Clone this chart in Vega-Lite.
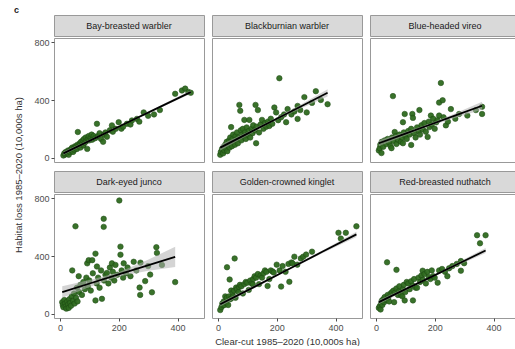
{
"$schema": "https://vega.github.io/schema/vega-lite/v6.json",
"padding": {"left": 13, "top": 5, "right": 0, "bottom": 0},
"title": {"text": "c", "anchor": "start", "fontSize": 9, "fontWeight": "bold", "offset": 0, "frame": "bounds", "color": "#222"},
"config": {
  "font": "Liberation Sans",
  "axis": {"labelFontSize": 9, "labelColor": "#4d4d4d", "tickColor": "#4d4d4d", "tickSize": 3, "labelPadding": 2, "domain": false, "grid": false, "titleFontSize": 9.5, "titleFontWeight": "normal", "titleColor": "#333", "titlePadding": 4},
  "view": {"stroke": "#999"}
},
"datasets": {
"pts": [
{"sp":"BBWA","x":12,"y":15},{"sp":"BBWA","x":15,"y":30},{"sp":"BBWA","x":18,"y":22},{"sp":"BBWA","x":20,"y":40},{"sp":"BBWA","x":22,"y":28},{"sp":"BBWA","x":25,"y":35},{"sp":"BBWA","x":28,"y":50},{"sp":"BBWA","x":30,"y":20},{"sp":"BBWA","x":32,"y":45},{"sp":"BBWA","x":35,"y":38},{"sp":"BBWA","x":38,"y":60},{"sp":"BBWA","x":40,"y":50},{"sp":"BBWA","x":42,"y":70},{"sp":"BBWA","x":45,"y":40},{"sp":"BBWA","x":48,"y":65},{"sp":"BBWA","x":50,"y":55},{"sp":"BBWA","x":52,"y":80},{"sp":"BBWA","x":55,"y":75},{"sp":"BBWA","x":58,"y":60},{"sp":"BBWA","x":60,"y":90},{"sp":"BBWA","x":61,"y":178},{"sp":"BBWA","x":65,"y":85},{"sp":"BBWA","x":68,"y":100},{"sp":"BBWA","x":70,"y":70},{"sp":"BBWA","x":72,"y":110},{"sp":"BBWA","x":75,"y":95},{"sp":"BBWA","x":78,"y":120},{"sp":"BBWA","x":80,"y":85},{"sp":"BBWA","x":82,"y":130},{"sp":"BBWA","x":85,"y":105},{"sp":"BBWA","x":88,"y":140},{"sp":"BBWA","x":90,"y":115},{"sp":"BBWA","x":93,"y":61},{"sp":"BBWA","x":95,"y":130},{"sp":"BBWA","x":98,"y":150},{"sp":"BBWA","x":100,"y":120},{"sp":"BBWA","x":105,"y":140},{"sp":"BBWA","x":108,"y":160},{"sp":"BBWA","x":110,"y":125},{"sp":"BBWA","x":115,"y":150},{"sp":"BBWA","x":120,"y":135},{"sp":"BBWA","x":126,"y":235},{"sp":"BBWA","x":130,"y":150},{"sp":"BBWA","x":135,"y":170},{"sp":"BBWA","x":140,"y":130},{"sp":"BBWA","x":147,"y":110},{"sp":"BBWA","x":150,"y":160},{"sp":"BBWA","x":155,"y":175},{"sp":"BBWA","x":160,"y":145},{"sp":"BBWA","x":170,"y":190},{"sp":"BBWA","x":177,"y":224},{"sp":"BBWA","x":180,"y":180},{"sp":"BBWA","x":190,"y":200},{"sp":"BBWA","x":200,"y":246},{"sp":"BBWA","x":209,"y":201},{"sp":"BBWA","x":215,"y":215},{"sp":"BBWA","x":228,"y":235},{"sp":"BBWA","x":240,"y":230},{"sp":"BBWA","x":245,"y":258},{"sp":"BBWA","x":262,"y":269},{"sp":"BBWA","x":270,"y":250},{"sp":"BBWA","x":285,"y":314},{"sp":"BBWA","x":300,"y":290},{"sp":"BBWA","x":320,"y":300},{"sp":"BBWA","x":340,"y":330},{"sp":"BBWA","x":392,"y":443},{"sp":"BBWA","x":415,"y":466},{"sp":"BBWA","x":426,"y":479},{"sp":"BBWA","x":437,"y":456},{"sp":"BBWA","x":445,"y":450},
{"sp":"BLBW","x":8,"y":20},{"sp":"BLBW","x":10,"y":40},{"sp":"BLBW","x":14,"y":60},{"sp":"BLBW","x":18,"y":30},{"sp":"BLBW","x":20,"y":75},{"sp":"BLBW","x":22,"y":50},{"sp":"BLBW","x":25,"y":90},{"sp":"BLBW","x":28,"y":65},{"sp":"BLBW","x":30,"y":110},{"sp":"BLBW","x":32,"y":45},{"sp":"BLBW","x":35,"y":85},{"sp":"BLBW","x":38,"y":120},{"sp":"BLBW","x":40,"y":70},{"sp":"BLBW","x":42,"y":140},{"sp":"BLBW","x":45,"y":212},{"sp":"BLBW","x":45,"y":100},{"sp":"BLBW","x":48,"y":80},{"sp":"BLBW","x":50,"y":130},{"sp":"BLBW","x":52,"y":160},{"sp":"BLBW","x":55,"y":110},{"sp":"BLBW","x":58,"y":90},{"sp":"BLBW","x":60,"y":150},{"sp":"BLBW","x":62,"y":125},{"sp":"BLBW","x":65,"y":175},{"sp":"BLBW","x":68,"y":100},{"sp":"BLBW","x":70,"y":140},{"sp":"BLBW","x":73,"y":366},{"sp":"BLBW","x":76,"y":325},{"sp":"BLBW","x":78,"y":190},{"sp":"BLBW","x":80,"y":120},{"sp":"BLBW","x":82,"y":160},{"sp":"BLBW","x":85,"y":200},{"sp":"BLBW","x":88,"y":145},{"sp":"BLBW","x":90,"y":262},{"sp":"BLBW","x":92,"y":175},{"sp":"BLBW","x":95,"y":130},{"sp":"BLBW","x":98,"y":210},{"sp":"BLBW","x":100,"y":160},{"sp":"BLBW","x":105,"y":185},{"sp":"BLBW","x":107,"y":262},{"sp":"BLBW","x":110,"y":140},{"sp":"BLBW","x":115,"y":200},{"sp":"BLBW","x":118,"y":170},{"sp":"BLBW","x":120,"y":225},{"sp":"BLBW","x":125,"y":190},{"sp":"BLBW","x":128,"y":366},{"sp":"BLBW","x":130,"y":100},{"sp":"BLBW","x":132,"y":215},{"sp":"BLBW","x":136,"y":330},{"sp":"BLBW","x":140,"y":175},{"sp":"BLBW","x":145,"y":230},{"sp":"BLBW","x":150,"y":262},{"sp":"BLBW","x":155,"y":200},{"sp":"BLBW","x":160,"y":240},{"sp":"BLBW","x":165,"y":215},{"sp":"BLBW","x":170,"y":250},{"sp":"BLBW","x":175,"y":220},{"sp":"BLBW","x":180,"y":270},{"sp":"BLBW","x":185,"y":235},{"sp":"BLBW","x":192,"y":348},{"sp":"BLBW","x":198,"y":314},{"sp":"BLBW","x":205,"y":260},{"sp":"BLBW","x":209,"y":551},{"sp":"BLBW","x":215,"y":280},{"sp":"BLBW","x":225,"y":300},{"sp":"BLBW","x":232,"y":246},{"sp":"BLBW","x":237,"y":337},{"sp":"BLBW","x":250,"y":300},{"sp":"BLBW","x":260,"y":320},{"sp":"BLBW","x":271,"y":269},{"sp":"BLBW","x":271,"y":359},{"sp":"BLBW","x":280,"y":330},{"sp":"BLBW","x":294,"y":420},{"sp":"BLBW","x":302,"y":314},{"sp":"BLBW","x":320,"y":380},{"sp":"BLBW","x":333,"y":461},{"sp":"BLBW","x":350,"y":400},{"sp":"BLBW","x":373,"y":371},
{"sp":"BHVI","x":10,"y":50},{"sp":"BHVI","x":13,"y":66},{"sp":"BHVI","x":15,"y":90},{"sp":"BHVI","x":19,"y":32},{"sp":"BHVI","x":20,"y":110},{"sp":"BHVI","x":25,"y":75},{"sp":"BHVI","x":30,"y":120},{"sp":"BHVI","x":35,"y":95},{"sp":"BHVI","x":40,"y":130},{"sp":"BHVI","x":45,"y":105},{"sp":"BHVI","x":50,"y":80},{"sp":"BHVI","x":53,"y":66},{"sp":"BHVI","x":55,"y":140},{"sp":"BHVI","x":58,"y":427},{"sp":"BHVI","x":60,"y":115},{"sp":"BHVI","x":64,"y":178},{"sp":"BHVI","x":68,"y":150},{"sp":"BHVI","x":70,"y":95},{"sp":"BHVI","x":75,"y":125},{"sp":"BHVI","x":80,"y":160},{"sp":"BHVI","x":85,"y":110},{"sp":"BHVI","x":90,"y":140},{"sp":"BHVI","x":92,"y":100},{"sp":"BHVI","x":92,"y":246},{"sp":"BHVI","x":95,"y":175},{"sp":"BHVI","x":98,"y":303},{"sp":"BHVI","x":100,"y":150},{"sp":"BHVI","x":105,"y":130},{"sp":"BHVI","x":110,"y":185},{"sp":"BHVI","x":115,"y":160},{"sp":"BHVI","x":120,"y":88},{"sp":"BHVI","x":120,"y":200},{"sp":"BHVI","x":124,"y":303},{"sp":"BHVI","x":126,"y":276},{"sp":"BHVI","x":130,"y":170},{"sp":"BHVI","x":135,"y":140},{"sp":"BHVI","x":140,"y":210},{"sp":"BHVI","x":145,"y":185},{"sp":"BHVI","x":148,"y":330},{"sp":"BHVI","x":150,"y":160},{"sp":"BHVI","x":155,"y":225},{"sp":"BHVI","x":160,"y":195},{"sp":"BHVI","x":165,"y":240},{"sp":"BHVI","x":170,"y":180},{"sp":"BHVI","x":176,"y":144},{"sp":"BHVI","x":180,"y":250},{"sp":"BHVI","x":182,"y":212},{"sp":"BHVI","x":187,"y":292},{"sp":"BHVI","x":190,"y":230},{"sp":"BHVI","x":195,"y":270},{"sp":"BHVI","x":200,"y":200},{"sp":"BHVI","x":205,"y":245},{"sp":"BHVI","x":210,"y":260},{"sp":"BHVI","x":215,"y":292},{"sp":"BHVI","x":215,"y":382},{"sp":"BHVI","x":221,"y":518},{"sp":"BHVI","x":227,"y":398},{"sp":"BHVI","x":230,"y":280},{"sp":"BHVI","x":238,"y":224},{"sp":"BHVI","x":245,"y":250},{"sp":"BHVI","x":255,"y":337},{"sp":"BHVI","x":270,"y":270},{"sp":"BHVI","x":283,"y":303},{"sp":"BHVI","x":311,"y":292},{"sp":"BHVI","x":340,"y":330},{"sp":"BHVI","x":361,"y":353},{"sp":"BHVI","x":361,"y":303},
{"sp":"DEJU","x":8,"y":80},{"sp":"DEJU","x":10,"y":60},{"sp":"DEJU","x":12,"y":45},{"sp":"DEJU","x":15,"y":95},{"sp":"DEJU","x":18,"y":70},{"sp":"DEJU","x":20,"y":50},{"sp":"DEJU","x":22,"y":35},{"sp":"DEJU","x":25,"y":85},{"sp":"DEJU","x":28,"y":65},{"sp":"DEJU","x":30,"y":40},{"sp":"DEJU","x":32,"y":100},{"sp":"DEJU","x":35,"y":75},{"sp":"DEJU","x":38,"y":55},{"sp":"DEJU","x":40,"y":120},{"sp":"DEJU","x":42,"y":300},{"sp":"DEJU","x":45,"y":90},{"sp":"DEJU","x":48,"y":140},{"sp":"DEJU","x":50,"y":70},{"sp":"DEJU","x":53,"y":606},{"sp":"DEJU","x":55,"y":110},{"sp":"DEJU","x":58,"y":180},{"sp":"DEJU","x":60,"y":85},{"sp":"DEJU","x":64,"y":260},{"sp":"DEJU","x":65,"y":150},{"sp":"DEJU","x":70,"y":200},{"sp":"DEJU","x":75,"y":130},{"sp":"DEJU","x":80,"y":220},{"sp":"DEJU","x":85,"y":170},{"sp":"DEJU","x":90,"y":250},{"sp":"DEJU","x":93,"y":349},{"sp":"DEJU","x":95,"y":190},{"sp":"DEJU","x":98,"y":371},{"sp":"DEJU","x":100,"y":230},{"sp":"DEJU","x":105,"y":160},{"sp":"DEJU","x":110,"y":371},{"sp":"DEJU","x":112,"y":280},{"sp":"DEJU","x":121,"y":416},{"sp":"DEJU","x":121,"y":92},{"sp":"DEJU","x":125,"y":210},{"sp":"DEJU","x":126,"y":327},{"sp":"DEJU","x":130,"y":250},{"sp":"DEJU","x":135,"y":180},{"sp":"DEJU","x":140,"y":300},{"sp":"DEJU","x":143,"y":103},{"sp":"DEJU","x":149,"y":658},{"sp":"DEJU","x":149,"y":602},{"sp":"DEJU","x":150,"y":230},{"sp":"DEJU","x":155,"y":270},{"sp":"DEJU","x":160,"y":282},{"sp":"DEJU","x":165,"y":210},{"sp":"DEJU","x":170,"y":320},{"sp":"DEJU","x":175,"y":250},{"sp":"DEJU","x":177,"y":349},{"sp":"DEJU","x":180,"y":290},{"sp":"DEJU","x":185,"y":230},{"sp":"DEJU","x":189,"y":338},{"sp":"DEJU","x":195,"y":270},{"sp":"DEJU","x":202,"y":785},{"sp":"DEJU","x":206,"y":465},{"sp":"DEJU","x":206,"y":409},{"sp":"DEJU","x":210,"y":300},{"sp":"DEJU","x":215,"y":250},{"sp":"DEJU","x":217,"y":349},{"sp":"DEJU","x":225,"y":280},{"sp":"DEJU","x":230,"y":320},{"sp":"DEJU","x":240,"y":260},{"sp":"DEJU","x":251,"y":360},{"sp":"DEJU","x":260,"y":300},{"sp":"DEJU","x":271,"y":181},{"sp":"DEJU","x":273,"y":130},{"sp":"DEJU","x":274,"y":354},{"sp":"DEJU","x":290,"y":226},{"sp":"DEJU","x":300,"y":330},{"sp":"DEJU","x":307,"y":271},{"sp":"DEJU","x":313,"y":148},{"sp":"DEJU","x":328,"y":461},{"sp":"DEJU","x":330,"y":421},{"sp":"DEJU","x":347,"y":338},{"sp":"DEJU","x":392,"y":219},
{"sp":"GCKI","x":8,"y":25},{"sp":"GCKI","x":12,"y":45},{"sp":"GCKI","x":15,"y":70},{"sp":"GCKI","x":17,"y":58},{"sp":"GCKI","x":20,"y":85},{"sp":"GCKI","x":22,"y":60},{"sp":"GCKI","x":25,"y":120},{"sp":"GCKI","x":28,"y":75},{"sp":"GCKI","x":30,"y":110},{"sp":"GCKI","x":31,"y":322},{"sp":"GCKI","x":35,"y":60},{"sp":"GCKI","x":38,"y":120},{"sp":"GCKI","x":40,"y":237},{"sp":"GCKI","x":42,"y":100},{"sp":"GCKI","x":45,"y":160},{"sp":"GCKI","x":48,"y":110},{"sp":"GCKI","x":50,"y":145},{"sp":"GCKI","x":52,"y":120},{"sp":"GCKI","x":55,"y":160},{"sp":"GCKI","x":57,"y":383},{"sp":"GCKI","x":60,"y":110},{"sp":"GCKI","x":62,"y":181},{"sp":"GCKI","x":65,"y":170},{"sp":"GCKI","x":70,"y":150},{"sp":"GCKI","x":72,"y":185},{"sp":"GCKI","x":75,"y":200},{"sp":"GCKI","x":80,"y":190},{"sp":"GCKI","x":85,"y":140},{"sp":"GCKI","x":90,"y":205},{"sp":"GCKI","x":95,"y":220},{"sp":"GCKI","x":100,"y":215},{"sp":"GCKI","x":105,"y":165},{"sp":"GCKI","x":110,"y":230},{"sp":"GCKI","x":115,"y":210},{"sp":"GCKI","x":119,"y":204},{"sp":"GCKI","x":120,"y":240},{"sp":"GCKI","x":125,"y":260},{"sp":"GCKI","x":130,"y":250},{"sp":"GCKI","x":136,"y":275},{"sp":"GCKI","x":140,"y":205},{"sp":"GCKI","x":145,"y":265},{"sp":"GCKI","x":150,"y":250},{"sp":"GCKI","x":155,"y":280},{"sp":"GCKI","x":160,"y":300},{"sp":"GCKI","x":165,"y":290},{"sp":"GCKI","x":169,"y":192},{"sp":"GCKI","x":175,"y":240},{"sp":"GCKI","x":180,"y":300},{"sp":"GCKI","x":186,"y":293},{"sp":"GCKI","x":190,"y":285},{"sp":"GCKI","x":200,"y":340},{"sp":"GCKI","x":210,"y":300},{"sp":"GCKI","x":215,"y":188},{"sp":"GCKI","x":220,"y":330},{"sp":"GCKI","x":230,"y":290},{"sp":"GCKI","x":240,"y":345},{"sp":"GCKI","x":243,"y":221},{"sp":"GCKI","x":250,"y":355},{"sp":"GCKI","x":254,"y":349},{"sp":"GCKI","x":260,"y":395},{"sp":"GCKI","x":270,"y":340},{"sp":"GCKI","x":282,"y":383},{"sp":"GCKI","x":290,"y":395},{"sp":"GCKI","x":300,"y":410},{"sp":"GCKI","x":320,"y":430},{"sp":"GCKI","x":410,"y":561},{"sp":"GCKI","x":418,"y":521},{"sp":"GCKI","x":435,"y":561},{"sp":"GCKI","x":471,"y":606},
{"sp":"RBNU","x":10,"y":40},{"sp":"RBNU","x":13,"y":52},{"sp":"RBNU","x":16,"y":29},{"sp":"RBNU","x":18,"y":70},{"sp":"RBNU","x":20,"y":90},{"sp":"RBNU","x":22,"y":60},{"sp":"RBNU","x":25,"y":100},{"sp":"RBNU","x":28,"y":80},{"sp":"RBNU","x":30,"y":115},{"sp":"RBNU","x":35,"y":95},{"sp":"RBNU","x":38,"y":356},{"sp":"RBNU","x":40,"y":130},{"sp":"RBNU","x":42,"y":110},{"sp":"RBNU","x":45,"y":85},{"sp":"RBNU","x":50,"y":140},{"sp":"RBNU","x":55,"y":150},{"sp":"RBNU","x":60,"y":160},{"sp":"RBNU","x":62,"y":80},{"sp":"RBNU","x":65,"y":145},{"sp":"RBNU","x":70,"y":304},{"sp":"RBNU","x":70,"y":175},{"sp":"RBNU","x":75,"y":130},{"sp":"RBNU","x":78,"y":155},{"sp":"RBNU","x":80,"y":190},{"sp":"RBNU","x":85,"y":130},{"sp":"RBNU","x":90,"y":120},{"sp":"RBNU","x":92,"y":170},{"sp":"RBNU","x":95,"y":200},{"sp":"RBNU","x":98,"y":92},{"sp":"RBNU","x":100,"y":150},{"sp":"RBNU","x":105,"y":220},{"sp":"RBNU","x":110,"y":210},{"sp":"RBNU","x":115,"y":170},{"sp":"RBNU","x":120,"y":225},{"sp":"RBNU","x":126,"y":92},{"sp":"RBNU","x":125,"y":195},{"sp":"RBNU","x":130,"y":240},{"sp":"RBNU","x":135,"y":180},{"sp":"RBNU","x":140,"y":180},{"sp":"RBNU","x":145,"y":250},{"sp":"RBNU","x":150,"y":220},{"sp":"RBNU","x":155,"y":265},{"sp":"RBNU","x":159,"y":298},{"sp":"RBNU","x":160,"y":235},{"sp":"RBNU","x":165,"y":275},{"sp":"RBNU","x":170,"y":210},{"sp":"RBNU","x":175,"y":290},{"sp":"RBNU","x":180,"y":255},{"sp":"RBNU","x":185,"y":240},{"sp":"RBNU","x":190,"y":300},{"sp":"RBNU","x":195,"y":260},{"sp":"RBNU","x":200,"y":250},{"sp":"RBNU","x":210,"y":215},{"sp":"RBNU","x":215,"y":300},{"sp":"RBNU","x":225,"y":310},{"sp":"RBNU","x":235,"y":290},{"sp":"RBNU","x":243,"y":260},{"sp":"RBNU","x":249,"y":315},{"sp":"RBNU","x":260,"y":330},{"sp":"RBNU","x":275,"y":345},{"sp":"RBNU","x":289,"y":365},{"sp":"RBNU","x":289,"y":298},{"sp":"RBNU","x":300,"y":350},{"sp":"RBNU","x":344,"y":544},{"sp":"RBNU","x":354,"y":488},{"sp":"RBNU","x":373,"y":544}
],
"fit": [
{"sp":"BBWA","x":12,"fit":30,"lo":18,"hi":42},{"sp":"BBWA","x":120,"fit":136,"lo":128.6,"hi":143.4},{"sp":"BBWA","x":228,"fit":242,"lo":237,"hi":247},{"sp":"BBWA","x":337,"fit":349,"lo":341.6,"hi":356.4},{"sp":"BBWA","x":445,"fit":455,"lo":443,"hi":467},
{"sp":"BLBW","x":8,"fit":70,"lo":50,"hi":90},{"sp":"BLBW","x":99,"fit":165,"lo":152.8,"hi":177.2},{"sp":"BLBW","x":190,"fit":260,"lo":252,"hi":268},{"sp":"BLBW","x":282,"fit":355,"lo":340.7,"hi":369.3},{"sp":"BLBW","x":373,"fit":450,"lo":425,"hi":475},
{"sp":"BHVI","x":10,"fit":100,"lo":80,"hi":120},{"sp":"BHVI","x":98,"fit":165,"lo":152.8,"hi":177.2},{"sp":"BHVI","x":186,"fit":230,"lo":222,"hi":238},{"sp":"BHVI","x":273,"fit":295,"lo":279.4,"hi":310.6},{"sp":"BHVI","x":361,"fit":360,"lo":332,"hi":388},
{"sp":"DEJU","x":8,"fit":150,"lo":110,"hi":190},{"sp":"DEJU","x":104,"fit":211,"lo":187,"hi":235},{"sp":"DEJU","x":200,"fit":272,"lo":257,"hi":287},{"sp":"DEJU","x":296,"fit":333,"lo":296,"hi":370},{"sp":"DEJU","x":392,"fit":394,"lo":324,"hi":464},
{"sp":"GCKI","x":8,"fit":65,"lo":50,"hi":80},{"sp":"GCKI","x":124,"fit":186,"lo":177,"hi":195},{"sp":"GCKI","x":240,"fit":308,"lo":302,"hi":314},{"sp":"GCKI","x":355,"fit":429,"lo":419,"hi":439},{"sp":"GCKI","x":471,"fit":550,"lo":532,"hi":568},
{"sp":"RBNU","x":10,"fit":80,"lo":65,"hi":95},{"sp":"RBNU","x":101,"fit":170,"lo":161,"hi":179},{"sp":"RBNU","x":192,"fit":259,"lo":253,"hi":265},{"sp":"RBNU","x":282,"fit":348,"lo":338,"hi":358},{"sp":"RBNU","x":373,"fit":438,"lo":420,"hi":456}
]
},
"spacing": 9,
"hconcat": [
{"width": 10, "height": 320, "view": {"stroke": null},
 "data": {"values": [{"t": "Habitat loss 1985–2020 (10,000s ha)"}]},
 "mark": {"type": "text", "angle": 270, "fontSize": 9.5, "color": "#333"},
 "encoding": {"text": {"field": "t"}}},
{"spacing": 6, "vconcat": [
 {"spacing": 6, "hconcat": [
  {"spacing": 0, "vconcat": [
   {"width": 150, "height": 21, "view": {"fill": "#d9d9d9", "stroke": "#999"}, "data": {"values": [{"n": "Bay-breasted warbler"}]}, "mark": {"type": "text", "fontSize": 9, "color": "#1a1a1a"}, "encoding": {"text": {"field": "n"}}},
   {"width": 150, "height": 124, "layer": [
    {"data": {"name": "pts"}, "transform": [{"filter": "datum.sp === 'BBWA'"}], "mark": {"type": "circle", "size": 30, "fill": "#2f6b1f", "stroke": "#1d4a12", "strokeWidth": 0.6, "opacity": 0.95}, "encoding": {"x": {"field": "x", "type": "quantitative", "scale": {"domain": [-20, 490], "nice": false, "zero": false}, "axis": null}, "y": {"field": "y", "type": "quantitative", "scale": {"domain": [-30, 830], "nice": false, "zero": false}, "axis": {"values": [0, 200, 400, 600, 800], "title": null}}}},
    {"data": {"name": "fit"}, "transform": [{"filter": "datum.sp === 'BBWA'"}], "mark": {"type": "area", "color": "#b0b0b0", "opacity": 0.55}, "encoding": {"x": {"field": "x", "type": "quantitative"}, "y": {"field": "lo", "type": "quantitative"}, "y2": {"field": "hi"}}},
    {"data": {"name": "fit"}, "transform": [{"filter": "datum.sp === 'BBWA'"}], "mark": {"type": "line", "color": "#000", "strokeWidth": 1.8}, "encoding": {"x": {"field": "x", "type": "quantitative"}, "y": {"field": "fit", "type": "quantitative"}}}
   ]}
  ]},
  {"spacing": 0, "vconcat": [
   {"width": 150, "height": 21, "view": {"fill": "#d9d9d9", "stroke": "#999"}, "data": {"values": [{"n": "Blackburnian warbler"}]}, "mark": {"type": "text", "fontSize": 9, "color": "#1a1a1a"}, "encoding": {"text": {"field": "n"}}},
   {"width": 150, "height": 124, "layer": [
    {"data": {"name": "pts"}, "transform": [{"filter": "datum.sp === 'BLBW'"}], "mark": {"type": "circle", "size": 30, "fill": "#2f6b1f", "stroke": "#1d4a12", "strokeWidth": 0.6, "opacity": 0.95}, "encoding": {"x": {"field": "x", "type": "quantitative", "scale": {"domain": [-20, 490], "nice": false, "zero": false}, "axis": null}, "y": {"field": "y", "type": "quantitative", "scale": {"domain": [-30, 830], "nice": false, "zero": false}, "axis": null}}},
    {"data": {"name": "fit"}, "transform": [{"filter": "datum.sp === 'BLBW'"}], "mark": {"type": "area", "color": "#b0b0b0", "opacity": 0.55}, "encoding": {"x": {"field": "x", "type": "quantitative"}, "y": {"field": "lo", "type": "quantitative"}, "y2": {"field": "hi"}}},
    {"data": {"name": "fit"}, "transform": [{"filter": "datum.sp === 'BLBW'"}], "mark": {"type": "line", "color": "#000", "strokeWidth": 1.8}, "encoding": {"x": {"field": "x", "type": "quantitative"}, "y": {"field": "fit", "type": "quantitative"}}}
   ]}
  ]},
  {"spacing": 0, "vconcat": [
   {"width": 150, "height": 21, "view": {"fill": "#d9d9d9", "stroke": "#999"}, "data": {"values": [{"n": "Blue-headed vireo"}]}, "mark": {"type": "text", "fontSize": 9, "color": "#1a1a1a"}, "encoding": {"text": {"field": "n"}}},
   {"width": 150, "height": 124, "layer": [
    {"data": {"name": "pts"}, "transform": [{"filter": "datum.sp === 'BHVI'"}], "mark": {"type": "circle", "size": 30, "fill": "#2f6b1f", "stroke": "#1d4a12", "strokeWidth": 0.6, "opacity": 0.95}, "encoding": {"x": {"field": "x", "type": "quantitative", "scale": {"domain": [-20, 490], "nice": false, "zero": false}, "axis": null}, "y": {"field": "y", "type": "quantitative", "scale": {"domain": [-30, 830], "nice": false, "zero": false}, "axis": null}}},
    {"data": {"name": "fit"}, "transform": [{"filter": "datum.sp === 'BHVI'"}], "mark": {"type": "area", "color": "#b0b0b0", "opacity": 0.55}, "encoding": {"x": {"field": "x", "type": "quantitative"}, "y": {"field": "lo", "type": "quantitative"}, "y2": {"field": "hi"}}},
    {"data": {"name": "fit"}, "transform": [{"filter": "datum.sp === 'BHVI'"}], "mark": {"type": "line", "color": "#000", "strokeWidth": 1.8}, "encoding": {"x": {"field": "x", "type": "quantitative"}, "y": {"field": "fit", "type": "quantitative"}}}
   ]}
  ]}
 ]},
 {"spacing": 6, "hconcat": [
  {"spacing": 0, "vconcat": [
   {"width": 150, "height": 21, "view": {"fill": "#d9d9d9", "stroke": "#999"}, "data": {"values": [{"n": "Dark-eyed junco"}]}, "mark": {"type": "text", "fontSize": 9, "color": "#1a1a1a"}, "encoding": {"text": {"field": "n"}}},
   {"width": 150, "height": 124, "layer": [
    {"data": {"name": "pts"}, "transform": [{"filter": "datum.sp === 'DEJU'"}], "mark": {"type": "circle", "size": 30, "fill": "#2f6b1f", "stroke": "#1d4a12", "strokeWidth": 0.6, "opacity": 0.95}, "encoding": {"x": {"field": "x", "type": "quantitative", "scale": {"domain": [-20, 490], "nice": false, "zero": false}, "axis": {"values": [0, 100, 200, 300, 400], "title": null}}, "y": {"field": "y", "type": "quantitative", "scale": {"domain": [-30, 830], "nice": false, "zero": false}, "axis": {"values": [0, 200, 400, 600, 800], "title": null}}}},
    {"data": {"name": "fit"}, "transform": [{"filter": "datum.sp === 'DEJU'"}], "mark": {"type": "area", "color": "#b0b0b0", "opacity": 0.55}, "encoding": {"x": {"field": "x", "type": "quantitative"}, "y": {"field": "lo", "type": "quantitative"}, "y2": {"field": "hi"}}},
    {"data": {"name": "fit"}, "transform": [{"filter": "datum.sp === 'DEJU'"}], "mark": {"type": "line", "color": "#000", "strokeWidth": 1.8}, "encoding": {"x": {"field": "x", "type": "quantitative"}, "y": {"field": "fit", "type": "quantitative"}}}
   ]}
  ]},
  {"spacing": 0, "vconcat": [
   {"width": 150, "height": 21, "view": {"fill": "#d9d9d9", "stroke": "#999"}, "data": {"values": [{"n": "Golden-crowned kinglet"}]}, "mark": {"type": "text", "fontSize": 9, "color": "#1a1a1a"}, "encoding": {"text": {"field": "n"}}},
   {"width": 150, "height": 124, "layer": [
    {"data": {"name": "pts"}, "transform": [{"filter": "datum.sp === 'GCKI'"}], "mark": {"type": "circle", "size": 30, "fill": "#2f6b1f", "stroke": "#1d4a12", "strokeWidth": 0.6, "opacity": 0.95}, "encoding": {"x": {"field": "x", "type": "quantitative", "scale": {"domain": [-20, 490], "nice": false, "zero": false}, "axis": {"values": [0, 100, 200, 300, 400], "title": "Clear-cut 1985–2020 (10,000s ha)"}}, "y": {"field": "y", "type": "quantitative", "scale": {"domain": [-30, 830], "nice": false, "zero": false}, "axis": null}}},
    {"data": {"name": "fit"}, "transform": [{"filter": "datum.sp === 'GCKI'"}], "mark": {"type": "area", "color": "#b0b0b0", "opacity": 0.55}, "encoding": {"x": {"field": "x", "type": "quantitative"}, "y": {"field": "lo", "type": "quantitative"}, "y2": {"field": "hi"}}},
    {"data": {"name": "fit"}, "transform": [{"filter": "datum.sp === 'GCKI'"}], "mark": {"type": "line", "color": "#000", "strokeWidth": 1.8}, "encoding": {"x": {"field": "x", "type": "quantitative"}, "y": {"field": "fit", "type": "quantitative"}}}
   ]}
  ]},
  {"spacing": 0, "vconcat": [
   {"width": 150, "height": 21, "view": {"fill": "#d9d9d9", "stroke": "#999"}, "data": {"values": [{"n": "Red-breasted nuthatch"}]}, "mark": {"type": "text", "fontSize": 9, "color": "#1a1a1a"}, "encoding": {"text": {"field": "n"}}},
   {"width": 150, "height": 124, "layer": [
    {"data": {"name": "pts"}, "transform": [{"filter": "datum.sp === 'RBNU'"}], "mark": {"type": "circle", "size": 30, "fill": "#2f6b1f", "stroke": "#1d4a12", "strokeWidth": 0.6, "opacity": 0.95}, "encoding": {"x": {"field": "x", "type": "quantitative", "scale": {"domain": [-20, 490], "nice": false, "zero": false}, "axis": {"values": [0, 100, 200, 300, 400], "title": null}}, "y": {"field": "y", "type": "quantitative", "scale": {"domain": [-30, 830], "nice": false, "zero": false}, "axis": null}}},
    {"data": {"name": "fit"}, "transform": [{"filter": "datum.sp === 'RBNU'"}], "mark": {"type": "area", "color": "#b0b0b0", "opacity": 0.55}, "encoding": {"x": {"field": "x", "type": "quantitative"}, "y": {"field": "lo", "type": "quantitative"}, "y2": {"field": "hi"}}},
    {"data": {"name": "fit"}, "transform": [{"filter": "datum.sp === 'RBNU'"}], "mark": {"type": "line", "color": "#000", "strokeWidth": 1.8}, "encoding": {"x": {"field": "x", "type": "quantitative"}, "y": {"field": "fit", "type": "quantitative"}}}
   ]}
  ]}
 ]}
]}
]
}
